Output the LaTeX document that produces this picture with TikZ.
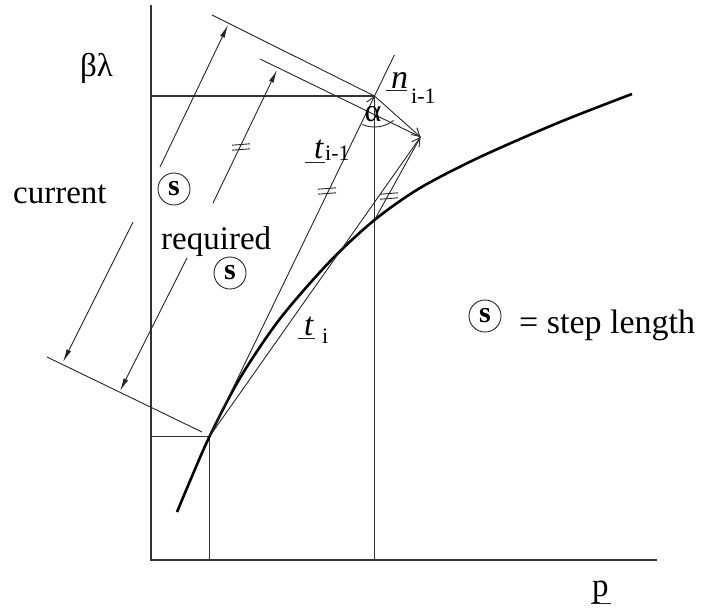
\documentclass[tikz,border=0pt]{standalone}
\usepackage{fontspec}
\setmainfont{Liberation Serif}
\usetikzlibrary{arrows.meta}
\newcommand\eqmk[1]{%
  \draw[eqmark] ([shift={(-9,-1.8)}]#1) -- ([shift={(9,-3.2)}]#1);
  \draw[eqmark] ([shift={(-9,3.2)}]#1) -- ([shift={(9,1.8)}]#1);}
\begin{document}
\begin{tikzpicture}[x=1pt,y=-1pt,
  thinline/.style={line width=0.9pt, draw=black!85},
  axisline/.style={line width=1.5pt, draw=black!80},
  curveline/.style={line width=2.6pt, draw=black},
  dimarrow/.style={thinline, -{Latex[length=13pt,width=5pt]}},
  vecarrow/.style={thinline, -{Straight Barb[length=8pt,width=9pt]}},
  eqmark/.style={thinline},
  bigtext/.style={font=\fontsize{33}{38}\selectfont, inner sep=0pt, anchor=base west},
  subtext/.style={font=\fontsize{22}{26}\selectfont, inner sep=0pt, anchor=base west},
  snode/.style={circle, draw=black!85, line width=0.9pt, minimum size=32pt, inner sep=0pt,
                font=\fontsize{30}{34}\selectfont\bfseries}
]
\useasboundingbox (0,0) rectangle (701,608);
% key points
\coordinate (O) at (151,560);
\coordinate (Ytop) at (151,5);
\coordinate (Xend) at (657,560);
\coordinate (A) at (209.5,436.5);
\coordinate (B) at (374.5,96);
\coordinate (C) at (420.5,137);
\coordinate (D) at (374.5,220);
\coordinate (Bext) at (394.4,55);
\coordinate (Ay) at (151,436.5);
\coordinate (Ax) at (209.5,560);
\coordinate (By) at (151,96);
\coordinate (Bx) at (374.5,560);
% axes
\draw[axisline] (Ytop) -- (O) -- (Xend);
% projection lines
\draw[axisline, line width=1.1pt] (Ay) -- (A) -- (Ax);
\draw[axisline, line width=1.1pt] (By) -- (B) -- (Bx);
% curve
\draw[curveline] plot[smooth, tension=0.5] coordinates
  {(177,512) (190,481) (209.5,436.5) (240,378) (280,318.7) (330,261.3) (374.5,220)
   (420,188) (480,157) (560,122) (632,94)};
% tangents and normal
\draw[vecarrow] (A) -- (B);
\draw[thinline] (B) -- (Bext);
\draw[vecarrow] (B) -- (C);
\draw[vecarrow] (A) -- (C);
\draw[thinline] (D) -- (C);
% dimension lines
\coordinate (U1) at (212,15);
\coordinate (U2) at (260,59);
\coordinate (L1) at (47,357);
\coordinate (L2) at (202,432);
\draw[thinline] (U1) -- (B);
\draw[thinline] (U2) -- (C);
\draw[thinline] (L1) -- (L2);
% current arrows
\coordinate (cu1) at (160,167); \coordinate (cu2) at (228,25);
\coordinate (cl1) at (133,222); \coordinate (cl2) at (63,362);
\draw[dimarrow] (cu1) -- (cu2);
\draw[dimarrow] (cl1) -- (cl2);
% required arrows
\coordinate (ru1) at (213,203); \coordinate (ru2) at (277,70);
\coordinate (rl1) at (187,258); \coordinate (rl2) at (120,391);
\draw[dimarrow] (ru1) -- (ru2);
\draw[dimarrow] (rl1) -- (rl2);
% equal marks
\coordinate (e1) at (241,147);
\coordinate (e2) at (327,191);
\coordinate (e3) at (389,196);
\eqmk{e1}
\eqmk{e2}
\eqmk{e3}
% angle alpha
\draw[thinline] (B) ++(52:31) arc[start angle=52, end angle=113, radius=31];
\node[font=\fontsize{32}{36}\selectfont, inner sep=0pt] (alpha) at (373,114) {α};
% labels
\node[bigtext] (bl) at (80,76) {βλ};
\node[bigtext] (cur) at (13,203) {current};
\node[bigtext] (req) at (161,249) {required};
\node[snode] (s1) at (174,189) {s};
\node[snode] (s2) at (230,273) {s};
\node[snode] (s3) at (485,316) {s};
\node[bigtext, font=\fontsize{34}{38}\selectfont] (stl) at (519,333) {= step length};
% vector labels
\node[bigtext, font=\fontsize{34}{38}\selectfont\itshape] (nl) at (391,88) {n};
\node[subtext] (nsub) at (411,103) {i-1};
\draw[thinline] (386,90) -- (407,90);
\node[bigtext, font=\fontsize{33}{38}\selectfont\itshape] (tl) at (314,158) {t};
\node[subtext] (tsub) at (325,160) {i-1};
\draw[thinline] (305,162) -- (325,162);
\node[bigtext, font=\fontsize{33}{38}\selectfont\itshape] (til) at (304,335) {t};
\node[subtext] (tisub) at (322,343) {i};
\draw[thinline] (298,338) -- (315,338);
\node[bigtext] (pl) at (592,596) {p};
\draw[thinline] (591,603) -- (611,603);
\end{tikzpicture}
\end{document}
